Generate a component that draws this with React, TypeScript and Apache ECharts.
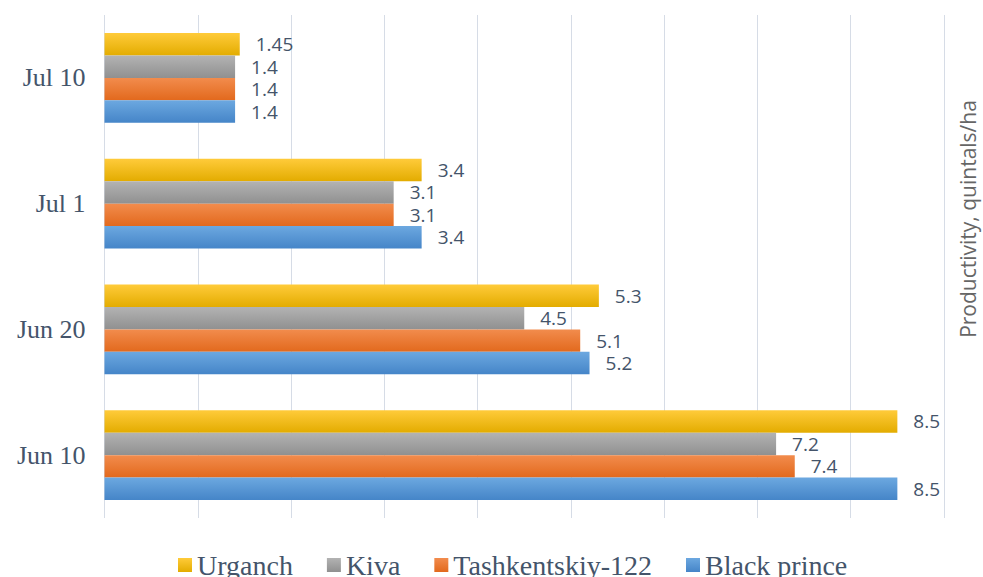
import React, { useEffect, useRef } from "react";
import * as echarts from "echarts";

const categories = ["Jun 10", "Jun 20", "Jul 1", "Jul 10"];
const urganch = [8.5, 5.3, 3.4, 1.45];
const kiva = [7.2, 4.5, 3.1, 1.4];
const tashkentskiy = [7.4, 5.1, 3.1, 1.4];
const blackPrince = [8.5, 5.2, 3.4, 1.4];
const legendOrder = ["Urganch", "Kiva", "Tashkentskiy-122", "Black prince"];
const axisName = "Productivity, quintals/ha";

const grad = (top: string, bottom: string) =>
  new echarts.graphic.LinearGradient(0, 0, 0, 1, [
    { offset: 0, color: top },
    { offset: 1, color: bottom },
  ]);

export default function App() {
  const ref = useRef<HTMLDivElement>(null);
  useEffect(() => {
    if (!ref.current) return;
    const chart = echarts.init(ref.current, null, { renderer: "svg" });
    const label = {
      show: true,
      position: "right" as const,
      distance: 16,
      color: "#44546A",
      fontFamily: "Open Sans",
      fontSize: 19,
    };
    const mk = (name: string, data: number[], top: string, bottom: string) => ({
      name,
      type: "bar" as const,
      data,
      barGap: "0%",
      barCategoryGap: "28.6%",
      itemStyle: { color: grad(top, bottom) },
      label,
    });
    chart.setOption({
      animation: false,
      grid: { left: 104.5, right: 39, top: 15, bottom: 59 },
      legend: {
        data: legendOrder,
        left: 173,
        top: 546,
        icon: "rect",
        itemWidth: 14,
        itemHeight: 14,
        itemGap: 34,
        textStyle: {
          fontFamily: "Liberation Serif",
          fontSize: 28,
          color: "#44546A",
        },
      },
      xAxis: {
        type: "value",
        min: 0,
        max: 9,
        interval: 1,
        axisLabel: { show: false },
        axisLine: { show: false },
        axisTick: { show: false },
        splitLine: { show: true, lineStyle: { color: "#D6DCE6", width: 1 } },
      },
      yAxis: {
        type: "category",
        data: categories,
        axisLine: { show: false },
        axisTick: { show: false },
        axisLabel: {
          margin: 19,
          fontFamily: "Liberation Serif",
          fontSize: 26,
          color: "#44546A",
        },
      },
      graphic: [
        {
          type: "text",
          x: 968,
          y: 219,
          rotation: Math.PI / 2,
          style: {
            text: axisName,
            fontFamily: "Open Sans",
            fontSize: 21,
            fill: "#666666",
            textAlign: "center",
            textVerticalAlign: "middle",
          },
        },
      ],
      series: [
        mk("Urganch", urganch, "#FFCB3A", "#E3AC00"),
        mk("Kiva", kiva, "#B3B3B3", "#909090"),
        mk("Tashkentskiy-122", tashkentskiy, "#F28C4D", "#E2691D"),
        mk("Black prince", blackPrince, "#6CA8E0", "#4585C8"),
      ],
    });
    return () => chart.dispose();
  }, []);
  return (
    <div
      ref={ref}
      style={{ position: "fixed", left: 0, top: 0, width: 983, height: 577, background: "#fff" }}
    />
  );
}
